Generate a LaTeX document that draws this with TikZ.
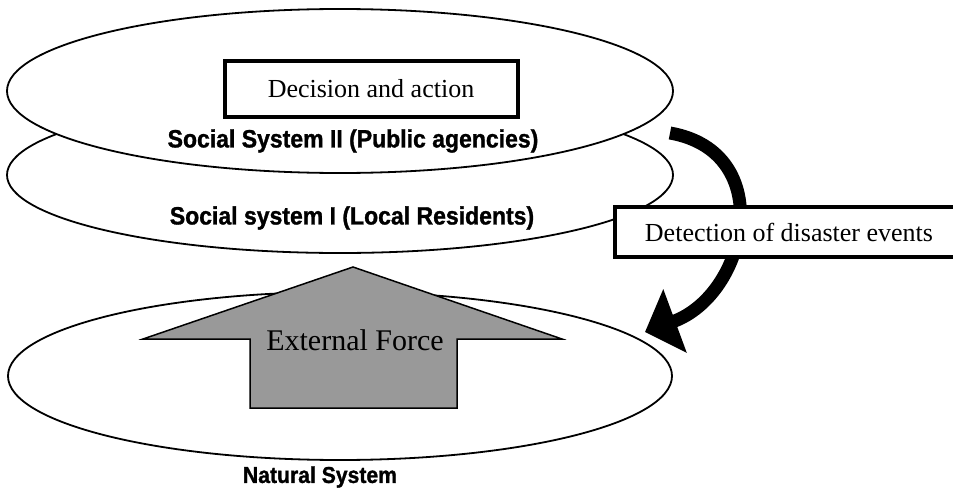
\documentclass[tikz,border=0pt]{standalone}
\usepackage{fontspec}
\setmainfont{Liberation Serif}
\setsansfont{Liberation Sans}
\newfontfamily\heavysans[FakeBold=1.2,FakeStretch=0.92]{Liberation Sans Bold}
\usepackage{tikz}
\usetikzlibrary{arrows.meta,positioning,shapes.geometric}

\begin{document}
\begin{tikzpicture}[x=1pt,y=-1pt]

\tikzset{layer/.style = {shape=ellipse,draw,fill=white,line width=1.8pt,inner sep=0pt}}
\tikzset{textbox/.style = {shape=rectangle,draw,fill=white,inner sep=0pt,font=\fontsize{26}{30}\selectfont}}
\tikzset{syslabel/.style = {font=\heavysans\fontsize{25}{28}\selectfont}}
\tikzset{bigarc/.style = {line width=13pt,-{Triangle[length=32pt,width=66pt]}}}
\tikzset{forcearrow/.style = {draw,fill=black!40,line width=1.5pt,line join=miter}}

\useasboundingbox (0,0) rectangle (953,495);

% systems
\node[layer,minimum width=666,minimum height=156] (socialone) at (340,175) {};
\node[layer,minimum width=666,minimum height=164] (socialtwo) at (340,91) {};
\node[layer,minimum width=664,minimum height=168] (natural) at (340,376) {};

% labels
\node[syslabel] (labtwo) at (353,141) {Social System II (Public agencies)};
\node[syslabel] (labone) at (352,218) {Social system I (Local Residents)};
\node[syslabel,font=\heavysans\fontsize{23}{26}\selectfont] (labnat) at (320,477) {Natural System};

% decision
\node[textbox,line width=4pt,minimum width=293,minimum height=55] (decide) at (371,89) {Decision and action};

% external force
\filldraw[forcearrow] (250,408) -- (250,339) -- (143,339) -- (353,267) -- (562,339) -- (457,339) -- (457,408) -- cycle;
\node[font=\fontsize{30}{34}\selectfont] (force) at (355,340) {External Force};

% detection
\coordinate (arcstart) at (670,133);
\coordinate (arcend) at (645,332);
\draw[bigarc] (arcstart) .. controls +(108,19) and +(103,-38) .. (arcend);
\node[textbox,line width=4.5pt,minimum width=348,minimum height=50] (detect) at (789,232) {Detection of disaster events};
\end{tikzpicture}
\end{document}
